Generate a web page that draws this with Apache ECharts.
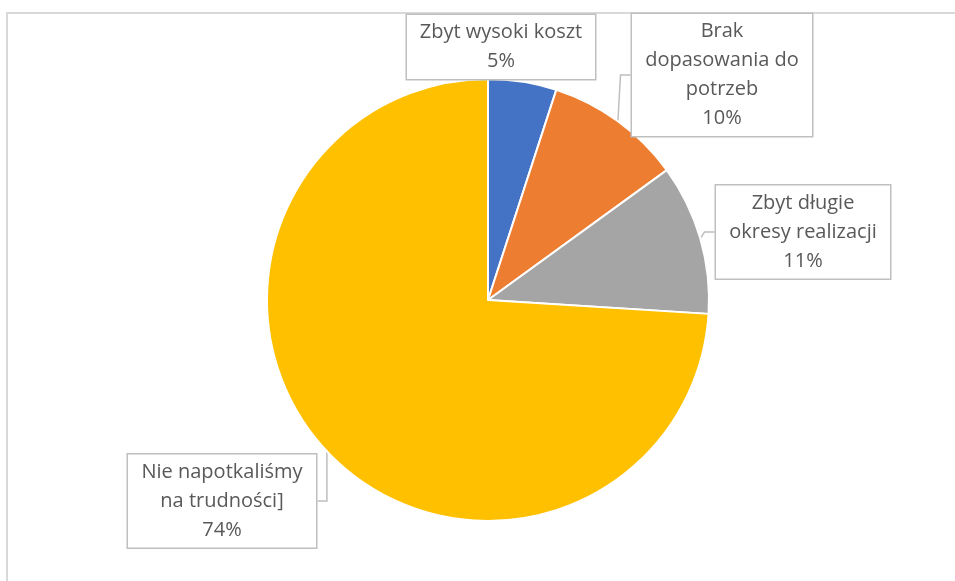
<!DOCTYPE html>
<html>
<head>
<meta charset="utf-8">
<script src="https://cdn.jsdelivr.net/npm/echarts@6/dist/echarts.min.js"></script>
<style>
    html, body { margin: 0; padding: 0; background: #fff; }
    #chart { width: 955px; height: 581px; }
</style>
</head>
<body>
<div id="chart"></div>
<script>
// data
var categories = ['Zbyt wysoki koszt', 'Brak\ndopasowania do\npotrzeb', 'Zbyt długie\nokresy realizacji', 'Nie napotkaliśmy\nna trudności]'];
var values = [5, 10, 11, 74];
var colors = ['#4472C4', '#ED7D31', '#A5A5A5', '#FFC000'];

// callout box centres and widths (px)
var labelPos = [[501, 47], [722, 75], [803, 232], [222, 501]];
var labelWidth = [180, 172, 166, 180];

var chart = echarts.init(document.getElementById('chart'));

var seriesData = [];
for (var i = 0; i < values.length; i++) {
    seriesData.push({
        name: categories[i],
        value: values[i],
        itemStyle: { color: colors[i] },
        label: { width: labelWidth[i] }
    });
}

var option = {
    animation: false,
    backgroundColor: '#fff',
    graphic: [{
        type: 'rect',
        shape: { x: 7, y: 13, width: 1000, height: 700 },
        style: { fill: 'none', stroke: '#d9d9d9', lineWidth: 2 },
        z: -1
    }],
    series: [{
        type: 'pie',
        center: [488, 300],
        radius: 221,
        startAngle: 90,
        clockwise: true,
        itemStyle: { borderColor: '#fff', borderWidth: 2 },
        label: {
            show: true,
            position: 'outside',
            formatter: function (p) { return p.name + '\n' + p.value + '%'; },
            fontFamily: '"Open Sans", "Noto Sans", sans-serif',
            fontSize: 20,
            lineHeight: 29,
            color: '#595959',
            backgroundColor: '#fff',
            borderColor: '#bfbfbf',
            borderWidth: 1.5,
            padding: [3, 4, 3, 4],
            align: 'center',
            overflow: 'none'
        },
        labelLine: {
            show: true,
            length: 10,
            length2: 10,
            lineStyle: { color: '#bfbfbf', width: 1.5 }
        },
        labelLayout: function (params) {
            var pos = labelPos[params.dataIndex];
            return {
                x: pos[0],
                y: pos[1],
                align: 'center',
                verticalAlign: 'middle'
            };
        },
        data: seriesData
    }]
};

chart.setOption(option);
window.addEventListener('resize', chart.resize);
</script>
</body>
</html>
